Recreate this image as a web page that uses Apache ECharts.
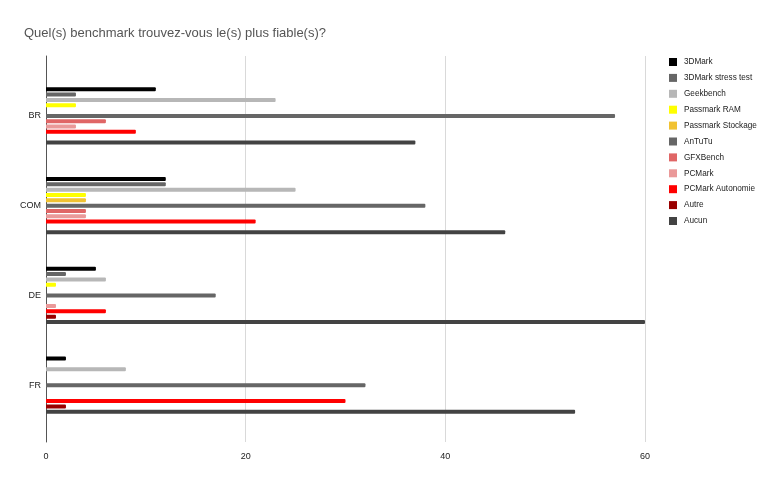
<!DOCTYPE html>
<html>
<head>
<meta charset="utf-8">
<script src="https://cdn.jsdelivr.net/npm/echarts@6/dist/echarts.min.js"></script>
<style>
  html, body { margin: 0; padding: 0; background: #fff; }
  #main { width: 782px; height: 483px; }
</style>
</head>
<body>
<div id="main"></div>
<script>
var categories = ['BR', 'COM', 'DE', 'FR'];
var seriesNames = ['3DMark', '3DMark stress test', 'Geekbench', 'Passmark RAM', 'Passmark Stockage',
  'AnTuTu', 'GFXBench', 'PCMark', 'PCMark Autonomie', 'Autre', 'Aucun'];
var colors = ['#000000', '#666666', '#b7b7b7', '#ffff00', '#f1c232',
  '#666666', '#e06666', '#ea9999', '#ff0000', '#990000', '#434343'];

// valeurs par série, dans l'ordre BR, COM, DE, FR
var v3DMark      = [11, 12, 5, 2];
var vStress      = [3, 12, 2, 0];
var vGeekbench   = [23, 25, 6, 8];
var vPassRAM     = [3, 4, 1, 0];
var vPassStock   = [0, 4, 0, 0];
var vAnTuTu      = [57, 38, 17, 32];
var vGFXBench    = [6, 4, 0, 0];
var vPCMark      = [3, 4, 1, 0];
var vPCMarkAuto  = [9, 21, 6, 30];
var vAutre       = [0, 0, 1, 2];
var vAucun       = [37, 46, 60, 53];
var xTicks = [0, 20, 40, 60];

var allValues = [v3DMark, vStress, vGeekbench, vPassRAM, vPassStock, vAnTuTu,
  vGFXBench, vPCMark, vPCMarkAuto, vAutre, vAucun];

var myChart = echarts.init(document.getElementById('main'));

var series = [];
for (var i = 0; i < seriesNames.length; i++) {
  series.push({
    name: seriesNames[i],
    type: 'bar',
    xAxisIndex: 1,
    yAxisIndex: 1,
    data: allValues[i],
    barWidth: 4,
    barGap: '33%',
    itemStyle: { color: colors[i], borderRadius: [0, 1, 1, 0] },
    emphasis: { disabled: true }
  });
}

var option = {
  animation: false,
  textStyle: { fontFamily: 'Liberation Sans, Arial, sans-serif' },
  title: {
    text: 'Quel(s) benchmark trouvez-vous le(s) plus fiable(s)?',
    left: 19,
    top: 22,
    textStyle: { fontSize: 13, fontWeight: 'normal', color: '#555555', fontFamily: 'Liberation Sans, Arial, sans-serif' }
  },
  legend: {
    orient: 'vertical',
    left: 664,
    top: 53,
    itemWidth: 8,
    itemHeight: 8,
    itemGap: 7.9,
    icon: 'rect',
    data: seriesNames,
    textStyle: { fontSize: 8.2, color: '#222222', padding: [0, 0, 0, 2] }
  },
  grid: [
    { left: 46, right: 137, top: 56, bottom: 41 },
    { left: 46, right: 137, top: 71, height: 359 }
  ],
  xAxis: [
    {
      gridIndex: 0,
      type: 'value',
      min: xTicks[0],
      max: xTicks[xTicks.length - 1],
      interval: 20,
      axisLine: { show: false },
      axisTick: { show: false },
      axisLabel: { fontSize: 9, color: '#222222', margin: 10 },
      splitLine: { lineStyle: { color: '#d9d9d9', width: 1 } }
    },
    {
      gridIndex: 1,
      type: 'value',
      min: xTicks[0],
      max: xTicks[xTicks.length - 1],
      show: false
    }
  ],
  yAxis: [
    {
      gridIndex: 0,
      type: 'category',
      data: [''],
      axisLine: { show: true, lineStyle: { color: '#555555', width: 1 } },
      axisTick: { show: false },
      axisLabel: { show: false }
    },
    {
      gridIndex: 1,
      type: 'category',
      inverse: true,
      data: categories,
      axisLine: { show: false },
      axisTick: { show: false },
      axisLabel: { fontSize: 9, color: '#222222', margin: 5 }
    }
  ],
  series: series
};

myChart.setOption(option);
</script>
</body>
</html>
